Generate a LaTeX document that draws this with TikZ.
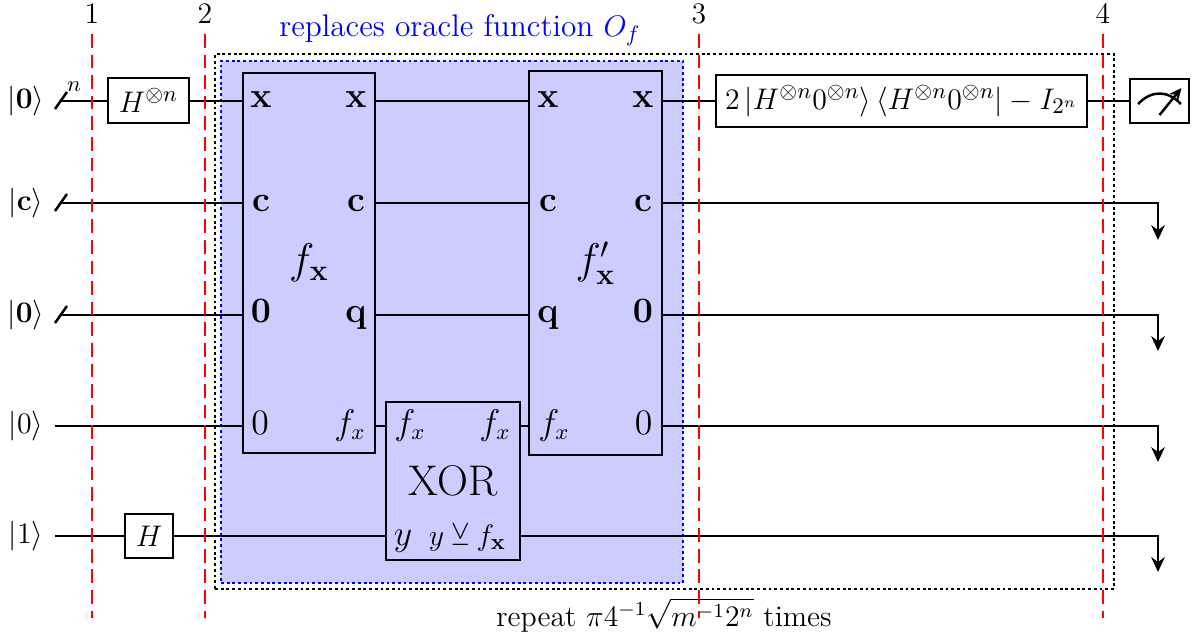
\documentclass[tikz,border=0pt]{standalone}
\usepackage{amsmath,amssymb}
\usepackage{tikz}
\usetikzlibrary{arrows.meta,positioning,calc}
\newcommand{\portsize}{\fontsize{13.4}{16}\selectfont}
\newcommand{\gatesize}{\fontsize{12.6}{15}\selectfont}
\tikzset{
  gate/.style={draw,line width=1pt,fill=white,inner sep=0pt},
  block/.style={draw,line width=1pt,inner sep=0pt},
  wire/.style={line width=1pt},
  endwire/.style={line width=1pt,-{Stealth[length=6pt,width=5.5pt,inset=2pt]}},
  slice/.style={red,line width=1pt,dash pattern=on 5.5pt off 2.8pt},
  region/.style={line width=1pt,dash pattern=on 1.15pt off 1.15pt,inner sep=0pt},
  port/.style={inner sep=0pt,anchor=base,font=\portsize},
  ketlabel/.style={inner sep=0pt}
}
\begin{document}
\begin{tikzpicture}[x=0.403pt,y=-0.403pt]
\useasboundingbox (0,0) rectangle (1195,635);
% oracle regions
\node[region,fill=blue!20,draw=blue,minimum width=462*0.403pt,minimum height=522*0.403pt] (oracle) at (452,322) {};
\node[region,draw=black,minimum width=899*0.403pt,minimum height=535*0.403pt] (loop) at (664.5,321.5) {};
\node[blue,inner sep=0pt] (oracletitle) at (460,30) {\gatesize replaces oracle function $O_f$};
\node[inner sep=0pt] (repeat) at (664,615) {\large repeat $\pi 4^{-1}\sqrt{m^{-1}2^{n}}$ times};
% input labels
\foreach \name/\ypos/\txt in {a/101/\mathbf{0},b/203/\mathbf{c},c/315/\mathbf{0},d/426/0,e/536/1}{
  \node[ketlabel] (ket\name) at (26,\ypos) {\large$|\txt\rangle$};
  \coordinate (in\name) at (55,\ypos);
}
\coordinate (busa) at (61,101);
\coordinate (busb) at (61,203);
\coordinate (busc) at (61,315);
% blocks
\node[block,minimum width=132*0.403pt,minimum height=380*0.403pt] (fx) at (309,263) {\LARGE$f_{\mathbf{x}}$};
\node[block,minimum width=133*0.403pt,minimum height=384*0.403pt] (fxinv) at (595.5,263) {\LARGE$f'_{\mathbf{x}}$};
\node[block,minimum width=134*0.403pt,minimum height=158*0.403pt] (xor) at (453,481) {\LARGE XOR};
\node[gate,minimum width=81*0.403pt,minimum height=45*0.403pt] (hn) at (148.5,100.5) {\gatesize$H^{\otimes n}$};
\node[gate,minimum width=48*0.403pt,minimum height=44*0.403pt] (h) at (149,536) {\gatesize$H$};
\node[gate,minimum width=371*0.403pt,minimum height=52*0.403pt] (diff) at (901.5,101) {\fontsize{12.4}{15}\selectfont$2\,|H^{\otimes n}0^{\otimes n}\rangle\,\langle H^{\otimes n}0^{\otimes n}|-I_{2^n}$};
\node[gate,minimum width=59*0.403pt,minimum height=44*0.403pt] (meter) at (1159.5,101) {};
% ends of the wires
\coordinate (outb) at (1158,240);
\coordinate (outc) at (1158,351);
\coordinate (outd) at (1158,462);
\coordinate (oute) at (1158,572);
% wires
\draw[wire] (busa) -- (busa -| hn.west);
\draw[wire] (ina -| hn.east) -- (ina -| fx.west);
\draw[wire] (busb) -- (busb -| fx.west);
\draw[wire] (busc) -- (busc -| fx.west);
\draw[wire] (ind) -- (ind -| fx.west);
\draw[wire] (ine) -- (h.west);
\draw[wire] (h.east) -- (h.east -| xor.west);
\draw[wire] (fx.east |- ina) -- (fxinv.west |- ina);
\draw[wire] (fx.east |- inb) -- (fxinv.west |- inb);
\draw[wire] (fx.east |- inc) -- (fxinv.west |- inc);
\draw[wire] (fx.east |- ind) -- (xor.west |- ind);
\draw[wire] (xor.east |- ind) -- (fxinv.west |- ind);
\draw[wire] (fxinv.east |- ina) -- (diff.west);
\draw[wire] (diff.east) -- (meter.west);
\draw[endwire] (fxinv.east |- inb) -| (outb);
\draw[endwire] (fxinv.east |- inc) -| (outc);
\draw[endwire] (fxinv.east |- ind) -| (outd);
\draw[endwire] (xor.east |- ine) -| (oute);
% bus marks
\foreach \name in {a,b,c}{
  \draw[wire] ($(in\name)+(0,8)$) -- ($(in\name)+(12,-9)$);
}
\node[inner sep=0pt] (busn) at (74,87) {\small$n$};
% ports
\foreach \name/\ypos/\lft/\rgt in {a/107/\mathbf{x}/\mathbf{x},b/211/\mathbf{c}/\mathbf{c},c/322/\mathbf{0}/\mathbf{q}}{
  \node[port] (fxl\name) at (261,\ypos) {$\lft$};
  \node[port] (fxr\name) at (356,\ypos) {$\rgt$};
}
\foreach \name/\ypos/\lft/\rgt in {a/107/\mathbf{x}/\mathbf{x},b/211/\mathbf{c}/\mathbf{c},c/322/\mathbf{q}/\mathbf{0}}{
  \node[port] (invl\name) at (548,\ypos) {$\lft$};
  \node[port] (invr\name) at (643,\ypos) {$\rgt$};
}
\node[port] (fxld) at (260,434) {$0$};
\node[port] (fxrd) at (350,434) {$f_x$};
\node[port] (invld) at (554,434) {$f_x$};
\node[port] (invrd) at (643.5,434) {$0$};
\node[port] (xortl) at (410,434) {$f_x$};
\node[port] (xortr) at (495,434) {$f_x$};
\node[port] (xorbl) at (403,545) {$y$};
\node[port,font=\gatesize] (xorbr) at (467.5,545) {$y\veebar f_{\mathbf{x}}$};
% meter
\draw[line width=1pt] ($(meter.center)+(-21.5,3)$) .. controls ($(meter.center)+(-8,-11)$) and ($(meter.center)+(8,-11)$) .. ($(meter.center)+(21.5,3)$);
\draw[line width=1pt,-{Stealth[length=5pt,width=4.5pt]}] ($(meter.center)+(0,14)$) -- ($(meter.center)+(22,-13)$);
% slices
\foreach \name/\xpos/\num in {one/92/1,two/205/2,three/699/3,four/1103/4}{
  \node[inner sep=0pt] (lab\name) at (\xpos,14) {\large$\num$};
  \coordinate (bot\name) at (\xpos,618);
  \draw[slice] (\xpos,34) -- (bot\name);
}
\end{tikzpicture}
\end{document}
